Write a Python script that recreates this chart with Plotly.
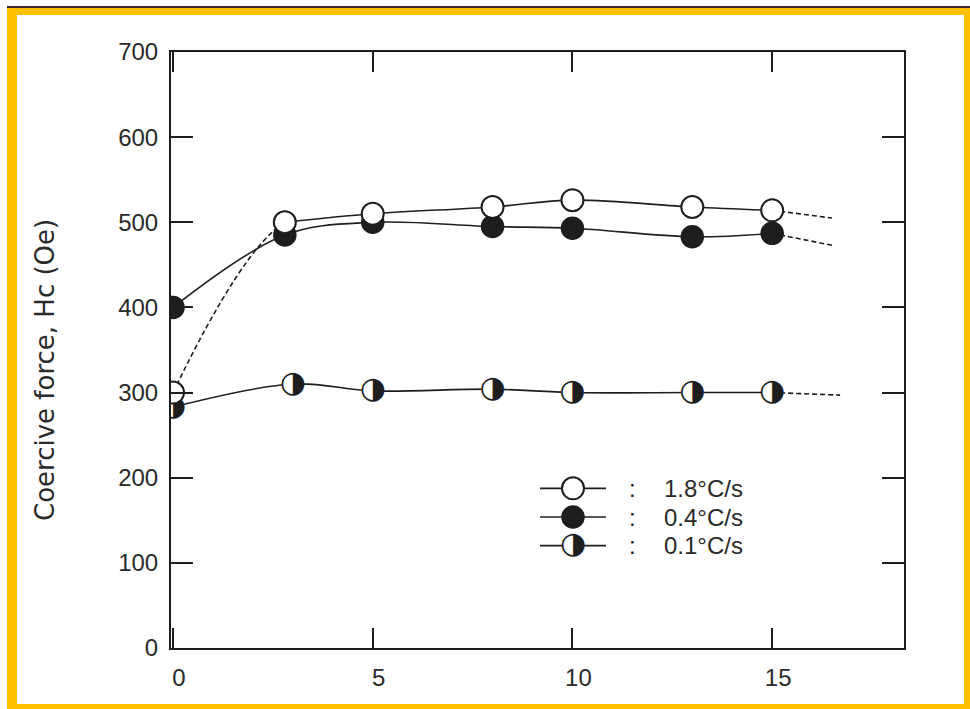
import plotly.graph_objects as go

# ---------------- data ----------------
time_open = [0, 2.8, 5, 8, 10, 13, 15]
time_fill = [0, 2.8, 5, 8, 10, 13, 15]
time_half = [0, 3.0, 5, 8, 10, 13, 15]
hc_18 = [300, 500, 510, 518, 526, 518, 514]   # 1.8 °C/s (open)
hc_04 = [400, 485, 500, 495, 493, 483, 487]   # 0.4 °C/s (filled)
hc_01 = [283, 310, 302, 304, 300, 300, 300]   # 0.1 °C/s (half)
ext_x = [16.5, 16.5, 16.7]                    # dashed continuation ends
ext_y = [505, 473, 297]
x_ticks = [0, 5, 10, 15]
y_ticks = [0, 100, 200, 300, 400, 500, 600, 700]
legend_labels = ["1.8°C/s", "0.4°C/s", "0.1°C/s"]
y_title = "Coercive force, Hc (Oe)"

# ---------------- layout constants (pixels) ----------------
W, H = 970, 709
L, R, T, B = 171, 904, 52, 648
PW, PH = R - L, B - T

def px(x):
    return (x - L) / PW

def py(y):
    return (B - y) / PH

INK = "#1e1e1e"
LW = 1.6
MS = 22
DASH = "5px,3px"

fig = go.Figure()

def line(x, y, dash="solid", color=INK, width=LW, xa="x", ya="y", shape="spline"):
    fig.add_trace(go.Scatter(x=x, y=y, mode="lines", xaxis=xa, yaxis=ya,
                             line=dict(color=color, width=width, dash=dash, shape=shape, smoothing=1.0),
                             showlegend=False, hoverinfo="skip"))

def open_markers(x, y, xa="x", ya="y"):
    fig.add_trace(go.Scatter(x=x, y=y, mode="markers", xaxis=xa, yaxis=ya,
                             marker=dict(symbol="circle", size=MS, color="white", line=dict(width=2, color=INK)),
                             showlegend=False, hoverinfo="skip"))

def filled_markers(x, y, xa="x", ya="y"):
    fig.add_trace(go.Scatter(x=x, y=y, mode="markers", xaxis=xa, yaxis=ya,
                             marker=dict(symbol="circle", size=MS, color=INK, line=dict(width=1.5, color=INK)),
                             showlegend=False, hoverinfo="skip"))

def half_markers(x, y, xa="x", ya="y"):
    fig.add_trace(go.Scatter(x=x, y=y, mode="markers", xaxis=xa, yaxis=ya,
                             marker=dict(symbol="circle", size=MS, color="white", line=dict(width=0)),
                             showlegend=False, hoverinfo="skip"))
    fig.add_trace(go.Scatter(x=x, y=y, mode="text", text=["◑"] * len(x), xaxis=xa, yaxis=ya,
                             textposition="middle center",
                             textfont=dict(family="DejaVu Sans", size=30, color=INK),
                             showlegend=False, hoverinfo="skip"))

# 1.8 C/s : dashed rise, then solid (white underlay hides the dashed overlap)
line(time_open[:3], hc_18[:3], DASH)
line(time_open[1:], hc_18[1:], color="white", width=18)
line(time_open[1:], hc_18[1:])
line([time_open[-1], ext_x[0]], [hc_18[-1], ext_y[0]], DASH)
# 0.4 C/s
line(time_fill, hc_04)
line([time_fill[-1], ext_x[1]], [hc_04[-1], ext_y[1]], DASH)
# 0.1 C/s
line(time_half, hc_01)
line([time_half[-1], ext_x[2]], [hc_01[-1], ext_y[2]], DASH)

half_markers(time_half, hc_01)
filled_markers(time_fill, hc_04)
open_markers(time_open, hc_18)

# ---------------- legend samples on a small hidden axis pair ----------------
leg_rows = [0, 1, 2]
leg_span = [0, 1]
for k in leg_rows:
    line(leg_span, [k, k], xa="x2", ya="y2", shape="linear")
open_markers([0.5], [leg_rows[0]], "x2", "y2")
filled_markers([0.5], [leg_rows[1]], "x2", "y2")
half_markers([0.5], [leg_rows[2]], "x2", "y2")

font_main = dict(family="Liberation Sans, Arial, sans-serif", size=24, color="#2a2a2a")

fig.update_layout(
    width=W, height=H,
    margin=dict(l=L, r=W - R, t=T, b=H - B, pad=0),
    paper_bgcolor="white", plot_bgcolor="rgba(0,0,0,0)",
    font=font_main,
    showlegend=False,
    xaxis=dict(range=[-0.05, 18.3], tickvals=x_ticks, ticktext=[str(v) for v in x_ticks],
               ticks="inside", ticklen=20, tickwidth=1.6, tickcolor=INK,
               showline=True, linecolor=INK, linewidth=2, mirror="ticks",
               showgrid=False, zeroline=False, ticklabelshift=6, ticklabelstandoff=7),
    yaxis=dict(range=[0, 700], tickvals=y_ticks, ticktext=[str(v) for v in y_ticks],
               ticks="inside", ticklen=22, tickwidth=1.6, tickcolor=INK,
               showline=True, linecolor=INK, linewidth=2, mirror="ticks",
               showgrid=False, zeroline=False, ticklabelstandoff=6),
    xaxis2=dict(domain=[px(540), px(606)], range=[0, 1], visible=False, anchor="y2", fixedrange=True),
    yaxis2=dict(domain=[py(560), py(474)], range=[2.5, -0.5], visible=False, anchor="x2", fixedrange=True),
)

annotations = [dict(xref="paper", yref="paper", x=px(45), y=py(370), xanchor="center", yanchor="middle",
                    text=y_title, textangle=-90, showarrow=False,
                    font=dict(family="DejaVu Sans", size=26, color="#2a2a2a"))]

# legend texts, aligned with the legend sample rows
row_px = [474 + (k + 0.5) / 3 * 86 for k in leg_rows]
for yy, lab in zip(row_px, legend_labels):
    annotations.append(dict(xref="paper", yref="paper", x=px(632), y=py(yy), text=":", showarrow=False,
                            xanchor="center", yanchor="middle",
                            font=dict(family="Liberation Sans, Arial, sans-serif", size=24, color=INK)))
    annotations.append(dict(xref="paper", yref="paper", x=px(662), y=py(yy), text=lab, showarrow=False,
                            xanchor="left", yanchor="middle",
                            font=dict(family="Liberation Sans, Arial, sans-serif", size=24, color="#2a2a2a")))

# orange picture frame
shapes = []
ORANGE = "#FFC000"
def rect(x0, y0, x1, y1, color):
    shapes.append(dict(type="rect", xref="paper", yref="paper", x0=px(x0), x1=px(x1), y0=py(y0), y1=py(y1),
                       fillcolor=color, line=dict(width=0), layer="above"))
rect(7, 7, 970, 15, ORANGE)
rect(7, 7, 17, 709, ORANGE)
rect(964, 7, 970, 709, ORANGE)
rect(7, 704, 970, 709, ORANGE)
rect(7, 6, 970, 8, "#3a2a2a")

fig.update_layout(shapes=shapes, annotations=annotations)
fig.write_html("out.html")
